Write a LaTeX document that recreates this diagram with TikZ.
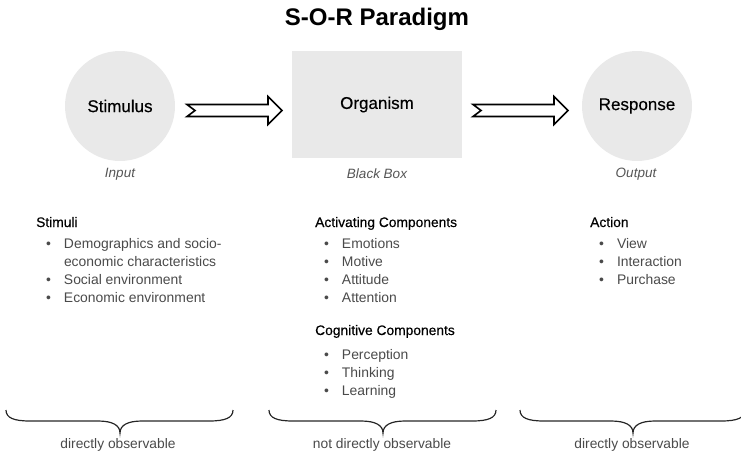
\documentclass[tikz,border=0pt]{standalone}
\usepackage{fontspec}
\setmainfont{Liberation Sans}
\newfontfamily\hdrfont[FakeBold=0.35]{Liberation Sans}
\usetikzlibrary{calc}
\definecolor{boxgray}{HTML}{E9E9E9}
\definecolor{txtgray}{HTML}{4A4A4A}
\definecolor{lblgray}{HTML}{555555}
\tikzset{
  blob/.style={fill=boxgray, draw=none, font=\hdrfont\fontsize{17}{20}\selectfont, text=black},
  subcap/.style={font=\fontsize{13.5}{16}\itshape, text=lblgray},
  hdr/.style={font=\hdrfont\fontsize{13.8}{16}\selectfont, text=black, anchor=base west, inner sep=0pt},
  lst/.style={font=\fontsize{13.9}{18}\selectfont, text=txtgray, anchor=north west, inner sep=0pt},
  fat/.style={draw=black, line width=1.6pt, fill=white, line join=miter},
  bracestyle/.style={draw=black!85, line width=1.2pt},
  obs/.style={font=\fontsize{13.8}{16}\selectfont, text=txtgray},
}
\newcommand{\fatarrowpath}[1]{%
  \path[fat] ($(#1)+(0,-6)$) -- ++(81,0) -- ++(0,-8) -- ++(14,14) -- ++(-14,14) -- ++(0,-8) -- ++(-81,0) -- ++(8,-6) -- cycle;}
\newcommand{\bracepath}[3]{%
  \path[bracestyle] (#1,410) .. controls (#1,418) and (#1+8,421) .. (#1+24,421)
    -- (#2-22,421) .. controls (#2-8,421) and (#2,425) .. (#2,433)
    .. controls (#2,425) and (#2+8,421) .. (#2+22,421)
    -- (#3-24,421) .. controls (#3-8,421) and (#3,418) .. (#3,410);}
\newcommand{\bl}{\makebox[4.8pt][l]{•}}
\begin{document}
\begin{tikzpicture}[x=1pt,y=-1pt]
\useasboundingbox (0,0) rectangle (741,453);
\node[font=\fontsize{24}{28}\bfseries, anchor=base] (title) at (377,25) {S-O-R Paradigm};

\node[blob, circle, minimum size=110pt, inner sep=0pt] (S) at (120,106) {Stimulus};
\node[blob, rectangle, minimum width=170pt, minimum height=107pt, inner sep=0pt] (O) at (377,104.5) {Organism};
\node[blob, circle, minimum size=110pt, inner sep=0pt] (R) at (637,106) {Response};

\node[subcap] (in) at (120,174) {Input};
\node[subcap] (bb) at (377,174) {Black Box};
\node[subcap] (out) at (636,174) {Output};

\coordinate (a1) at (187,110.5);
\coordinate (a2) at (473,110.5);
\fatarrowpath{a1}
\fatarrowpath{a2}

\node[hdr] (h1) at (36,227) {Stimuli};
\node[lst] (l1) at (46,235.4) {\begin{tabular}{@{}l@{\hspace{13pt}}l@{}}
\bl & Demographics and socio-\\
  & economic characteristics\\
\bl & Social environment\\
\bl & Economic environment
\end{tabular}};

\node[hdr] (h2) at (315,227) {Activating Components};
\node[lst] (l2) at (324,235.4) {\begin{tabular}{@{}l@{\hspace{13pt}}l@{}}
\bl & Emotions\\
\bl & Motive\\
\bl & Attitude\\
\bl & Attention
\end{tabular}};
\node[hdr] (h3) at (315,335) {Cognitive Components};
\node[lst] (l3) at (324,346.4) {\begin{tabular}{@{}l@{\hspace{13pt}}l@{}}
\bl & Perception\\
\bl & Thinking\\
\bl & Learning
\end{tabular}};

\node[hdr] (h4) at (590,227) {Action};
\node[lst] (l4) at (599,235.4) {\begin{tabular}{@{}l@{\hspace{13pt}}l@{}}
\bl & View\\
\bl & Interaction\\
\bl & Purchase
\end{tabular}};

\bracepath{6}{120}{233}
\bracepath{269}{383}{496}
\bracepath{520}{633}{745}

\node[obs] (o1) at (118,445) {directly observable};
\node[obs] (o2) at (382,445) {not directly observable};
\node[obs] (o3) at (632,445) {directly observable};
\end{tikzpicture}
\end{document}
